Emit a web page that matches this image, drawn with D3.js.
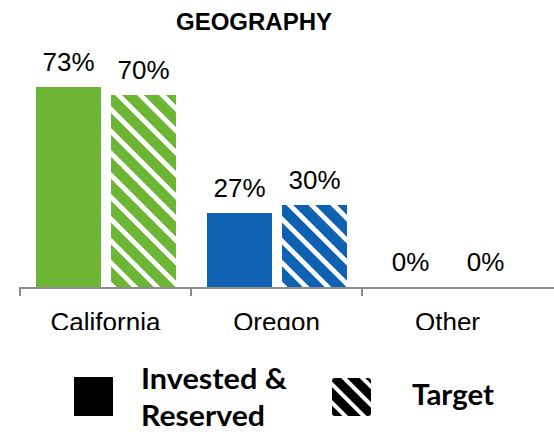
<!DOCTYPE html>
<html>
<head>
<meta charset="utf-8">
<script src="https://cdn.jsdelivr.net/npm/d3@7"></script>
<style>
  body { margin: 0; background: #fff; }
  svg { display: block; }
</style>
</head>
<body>
<svg id="chart" width="554" height="432"></svg>
<script>
// chart data
const categories = ["California", "Oregon", "Other"];
const seriesNames = ["Invested & Reserved", "Target"];
const invested = [73, 27, 0];
const target = [70, 30, 0];
const categoryColors = ["#6cb535", "#0f61b1", "#7f7f7f"];

const svg = d3.select("#chart");
const defs = svg.append("defs");

//Scales
var baseline = 287;
var x0 = d3.scaleBand().domain(categories).range([20, 533]);
var x1 = d3.scaleBand().domain(seriesNames).range([16, 156]).paddingInner(10 / 75);
var y = d3.scaleLinear().domain([0, 100]).range([baseline, 13]);

//Hatch patterns, one per category colour
function hatch(id, color, size, stripe) {
  var p = defs.append("pattern")
    .attr("id", id)
    .attr("patternUnits", "userSpaceOnUse")
    .attr("width", size)
    .attr("height", size)
    .attr("patternTransform", "rotate(-45)");
  p.append("rect").attr("width", size).attr("height", size).attr("fill", color);
  p.append("rect").attr("width", stripe).attr("height", size).attr("fill", "#fff")
    .attr("shape-rendering", "crispEdges");
}
categoryColors.forEach(function(c, i) { hatch("hatch" + i, c, 15.5, 5); });
hatch("hatchLegend", "#000", 13, 4);

//Title
svg.append("text")
  .attr("x", 254).attr("y", 30)
  .attr("text-anchor", "middle")
  .attr("font-family", "'Liberation Sans', Arial, sans-serif")
  .attr("font-weight", "bold")
  .attr("font-size", 24)
  .text("GEOGRAPHY");

//Bars
var rows = categories.map(function(c, i) {
  return { cat: c, i: i, values: [invested[i], target[i]] };
});

var groups = svg.selectAll(".cat")
  .data(rows)
  .enter()
  .append("g")
  .attr("class", "cat")
  .attr("transform", function(d) { return "translate(" + x0(d.cat) + ",0)"; });

groups.selectAll("rect")
  .data(function(d) {
    return d.values.map(function(v, k) { return { s: seriesNames[k], v: v, k: k, i: d.i }; });
  })
  .enter()
  .append("rect")
  .attr("x", function(d) { return x1(d.s); })
  .attr("y", function(d) { return y(d.v); })
  .attr("width", x1.bandwidth())
  .attr("height", function(d) { return baseline - y(d.v); })
  .attr("shape-rendering", "crispEdges")
  .attr("fill", function(d) {
    return d.k === 0 ? categoryColors[d.i] : "url(#hatch" + d.i + ")";
  });

groups.selectAll(".val")
  .data(function(d) {
    return d.values.map(function(v, k) { return { s: seriesNames[k], v: v }; });
  })
  .enter()
  .append("text")
  .attr("class", "val")
  .attr("x", function(d) { return x1(d.s) + x1.bandwidth() / 2; })
  .attr("y", function(d) { return y(d.v) - 16; })
  .attr("text-anchor", "middle")
  .attr("font-family", "'Liberation Sans', Arial, sans-serif")
  .attr("font-size", 26)
  .attr("fill", "#000")
  .text(function(d) { return d.v + "%"; });

//Axis line and ticks
var axis = svg.append("g").attr("stroke", "#8c8c8c").attr("stroke-width", 2);
axis.append("line")
  .attr("x1", x0.range()[0] - 1).attr("x2", 554)
  .attr("y1", baseline + 1).attr("y2", baseline + 1);
axis.selectAll(".tick")
  .data(categories)
  .enter()
  .append("line")
  .attr("x1", function(d) { return x0(d); })
  .attr("x2", function(d) { return x0(d); })
  .attr("y1", baseline + 1)
  .attr("y2", baseline + 9);

//Category labels, bottom cut off like the source
defs.append("clipPath").attr("id", "labelClip")
  .append("rect").attr("x", 0).attr("y", 295).attr("width", 554).attr("height", 35);

svg.append("g")
  .attr("clip-path", "url(#labelClip)")
  .selectAll("text")
  .data(categories)
  .enter()
  .append("text")
  .attr("x", function(d) { return x0(d) + x0.bandwidth() / 2; })
  .attr("y", 331)
  .attr("text-anchor", "middle")
  .attr("font-family", "'Liberation Sans', Arial, sans-serif")
  .attr("font-size", 26)
  .attr("fill", "#000")
  .text(function(d) { return d; });

//Legend
var legend = svg.append("g")
  .attr("font-family", "Lato, 'Open Sans', sans-serif")
  .attr("font-weight", "bold")
  .attr("font-size", 29)
  .attr("fill", "#000");

legend.append("rect")
  .attr("x", 74).attr("y", 377).attr("width", 39).attr("height", 39)
  .attr("fill", "#000");
legend.append("text").attr("x", 141).attr("y", 389)
  .attr("textLength", 146).attr("lengthAdjust", "spacingAndGlyphs")
  .text("Invested &");
legend.append("text").attr("x", 141).attr("y", 426)
  .attr("textLength", 124).attr("lengthAdjust", "spacingAndGlyphs")
  .text("Reserved");

legend.append("rect")
  .attr("x", 332).attr("y", 378).attr("width", 39).attr("height", 38)
  .attr("rx", 3)
  .attr("fill", "url(#hatchLegend)");
legend.append("text").attr("x", 412).attr("y", 405)
  .attr("textLength", 82).attr("lengthAdjust", "spacingAndGlyphs")
  .text("Target");
</script>
</body>
</html>
